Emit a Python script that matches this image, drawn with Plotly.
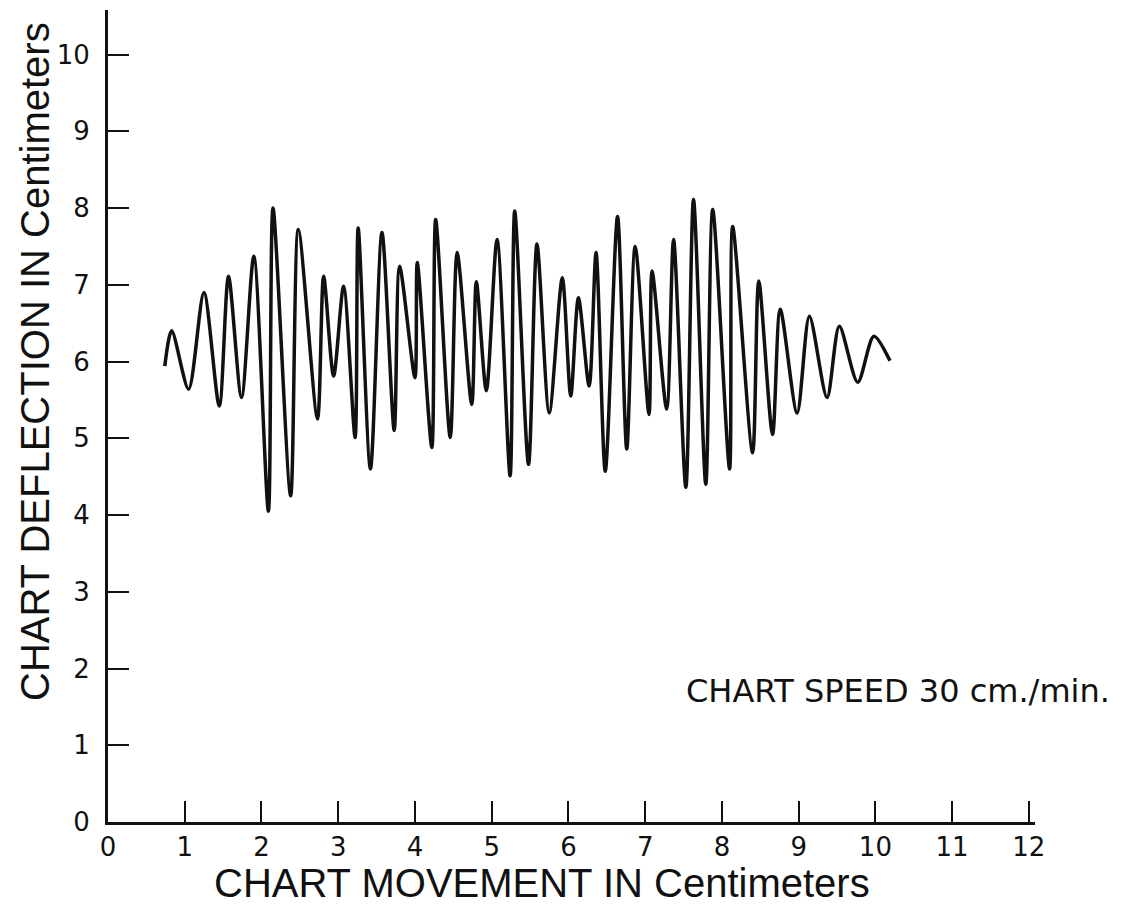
import plotly.graph_objects as go

# Trace of the chart pen: successive turning points (x in cm of chart movement, y in cm deflection)
movement_cm = [0.74, 0.83, 1.05, 1.25, 1.45, 1.57, 1.74, 1.90, 2.09, 2.15,
               2.38, 2.48, 2.73, 2.81, 2.94, 3.07, 3.22, 3.26, 3.42, 3.57,
               3.73, 3.80, 4.00, 4.03, 4.22, 4.27, 4.46, 4.55, 4.74, 4.80,
               4.93, 5.07, 5.24, 5.30, 5.48, 5.59, 5.75, 5.92, 6.03, 6.13,
               6.27, 6.36, 6.48, 6.64, 6.76, 6.87, 7.05, 7.09, 7.28, 7.37,
               7.53, 7.63, 7.79, 7.88, 8.10, 8.14, 8.40, 8.48, 8.66, 8.76,
               8.98, 9.14, 9.37, 9.53, 9.77, 9.98, 10.19]
deflection_cm = [5.94, 6.40, 5.64, 6.90, 5.42, 7.11, 5.53, 7.37, 4.05, 8.00,
                 4.25, 7.72, 5.25, 7.11, 5.81, 6.98, 5.01, 7.74, 4.60, 7.68,
                 5.10, 7.24, 5.79, 7.29, 4.88, 7.85, 5.01, 7.42, 5.44, 7.04,
                 5.62, 7.59, 4.51, 7.96, 4.66, 7.53, 5.33, 7.09, 5.55, 6.83,
                 5.68, 7.42, 4.57, 7.89, 4.86, 7.50, 5.31, 7.18, 5.38, 7.59,
                 4.36, 8.11, 4.40, 7.98, 4.60, 7.76, 4.81, 7.05, 5.05, 6.68,
                 5.33, 6.59, 5.53, 6.46, 5.73, 6.33, 6.01]

x_ticks = list(range(0, 13))
y_ticks = list(range(0, 11))

x_title = "CHART MOVEMENT IN Centimeters"
y_title = "CHART DEFLECTION IN Centimeters"
note = "CHART SPEED 30 cm./min."

fig = go.Figure()
fig.add_trace(go.Scatter(
    x=movement_cm, y=deflection_cm, mode="lines",
    line=dict(color="#111111", width=3.5, shape="spline", smoothing=0.8),
    showlegend=False, hoverinfo="skip",
))

tick_font = dict(family="DejaVu Sans, Arial, sans-serif", size=26, color="#111111")
title_font = dict(family="Liberation Sans, Arial, sans-serif", size=40, color="#111111")

fig.update_layout(
    width=1140, height=911,
    margin=dict(l=108, r=105, t=10, b=89),
    paper_bgcolor="white", plot_bgcolor="white",
    xaxis=dict(range=[0, 12.08], tickvals=x_ticks, ticktext=[str(v) for v in x_ticks],
               ticks="inside", ticklen=21, tickwidth=2, tickcolor="#111111",
               showline=True, linewidth=3, linecolor="#111111", mirror=False,
               showgrid=False, zeroline=False, tickfont=tick_font,
               ticklabelstandoff=0),
    yaxis=dict(range=[0, 10.58], tickvals=y_ticks, ticktext=[str(v) for v in y_ticks],
               ticks="inside", ticklen=21, tickwidth=2, tickcolor="#111111",
               showline=True, linewidth=3, linecolor="#111111", mirror=False,
               showgrid=False, zeroline=False, tickfont=tick_font,
               ticklabelstandoff=10),
    annotations=[
        dict(text=note, x=7.5, y=1.71, xref="x", yref="y", xanchor="left",
             yanchor="middle", showarrow=False,
             font=dict(family="DejaVu Sans, Arial, sans-serif", size=32, color="#111111")),
        dict(text=x_title, x=542, y=883, xref="paper", yref="paper",
             xanchor="center", yanchor="middle",
             showarrow=False, font=title_font),
        dict(text=y_title, x=35, y=362, xref="paper", yref="paper",
             xanchor="center", yanchor="middle",
             showarrow=False, textangle=-90, font=title_font),
    ],
)

# convert pixel positions of the title annotations to paper coordinates
W, H = 1140, 911
l, r, t, b = 108, 105, 10, 89
pw, ph = W - l - r, H - t - b
for ann in fig.layout.annotations[1:]:
    ann.x = (ann.x - l) / pw
    ann.y = 1 - (ann.y - t) / ph

fig.write_html("out.html")
